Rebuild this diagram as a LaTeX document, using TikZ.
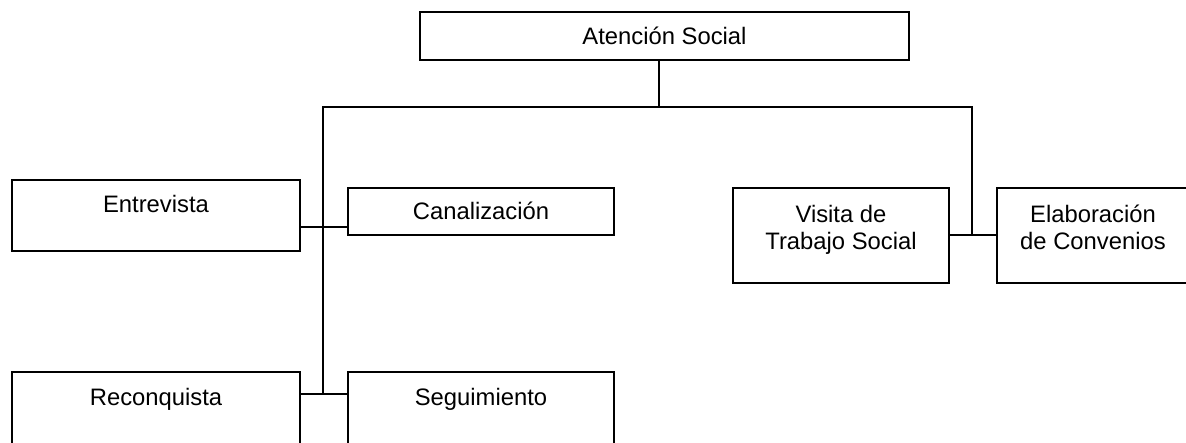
\documentclass[tikz,border=0pt]{standalone}
\usepackage{fontspec}
\setmainfont{Liberation Sans}
\begin{document}
\begin{tikzpicture}[x=1pt,y=-1pt,
  box/.style={draw, line width=2pt, rectangle, inner sep=0pt, anchor=north west,
    text height=16.9pt, font=\fontsize{23.8}{26.7}\selectfont},
  conn/.style={line width=2pt}]
\useasboundingbox (0,0) rectangle (1186,442);
% boxes
\node[box, minimum width=489pt, minimum height=48pt, text depth=0pt] (top) at (419,11) {Atención Social};
\node[box, minimum width=288pt, minimum height=71pt, text depth=22.4pt] (entrevista) at (11,179) {Entrevista};
\node[box, minimum width=266pt, minimum height=47pt, text depth=0pt] (canal) at (347,187) {Canalización};
\node[box, minimum width=216pt, minimum height=95.5pt, text depth=41.9pt] (visita) at (732,186.5)
  {\begin{tabular}[t]{@{}c@{}}Visita de\\Trabajo Social\end{tabular}};
\node[box, minimum width=193pt, minimum height=95.5pt, text depth=41.9pt] (elab) at (995.5,186.5)
  {\begin{tabular}[t]{@{}c@{}}Elaboración\\de Convenios\end{tabular}};
\node[box, minimum width=288pt, minimum height=72pt, text depth=22pt] (reconquista) at (11,371) {Reconquista};
\node[box, minimum width=266pt, minimum height=72pt, text depth=22pt] (seguimiento) at (347,371) {Seguimiento};
% junctions
\coordinate (jtop) at (659.3,107);
\coordinate (jl) at (322.7,107);
\coordinate (jr) at (971.7,107);
\coordinate (jlm) at (322.7,227);
\coordinate (jlb) at (322.7,394);
\coordinate (jrm) at (971.7,235);
% connectors
\draw[conn] (top.south -| jtop) -- (jtop);
\draw[conn] (jlb) -- (jl) -- (jr) -- (jrm);
\draw[conn] (entrevista.east |- jlm) -- (canal.west |- jlm);
\draw[conn] (reconquista.east |- jlb) -- (seguimiento.west |- jlb);
\draw[conn] (visita.east |- jrm) -- (elab.west |- jrm);
\end{tikzpicture}
\end{document}
